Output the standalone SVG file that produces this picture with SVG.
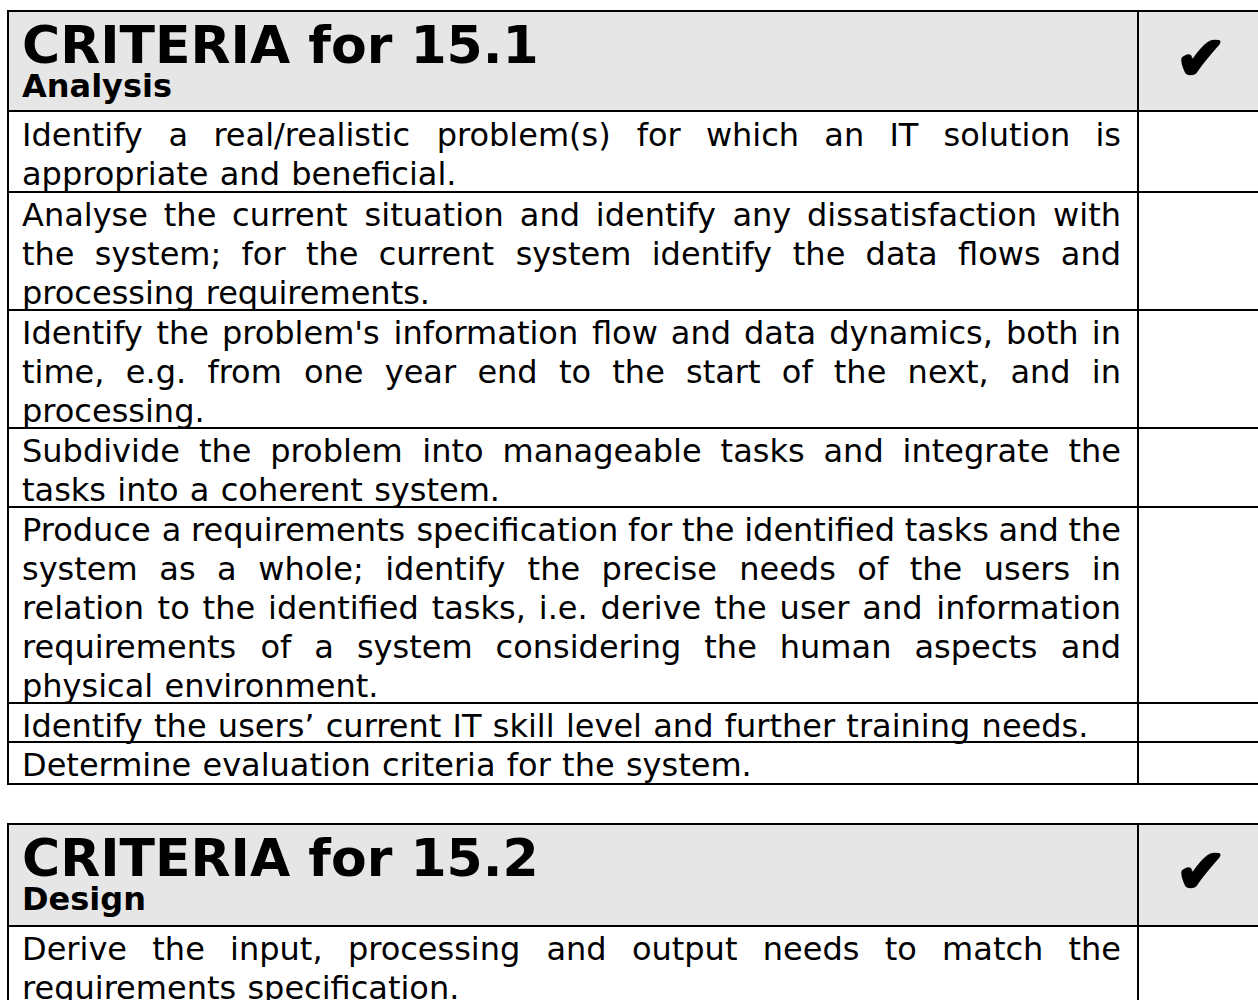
<svg xmlns="http://www.w3.org/2000/svg" width="1258" height="1000" viewBox="0 0 1258 1000">
<style>
.bg{fill:#ffffff}
.hd{fill:#e6e6e6}
.ln{stroke:#000;stroke-width:2;fill:none}
.ti{font-family:"DejaVu Sans",Verdana,sans-serif;font-weight:bold;font-size:52px;fill:#000}
.st{font-family:"DejaVu Sans",Verdana,sans-serif;font-weight:bold;font-size:32px;fill:#000}
.t{font-family:"DejaVu Sans",Verdana,sans-serif;font-size:32px;fill:#000;word-spacing:1.1px}
.ck{font-family:"DejaVu Sans",sans-serif;font-size:60px;fill:#000;stroke:#000;stroke-width:3;stroke-linejoin:round;text-anchor:middle}
</style>
<rect class="bg" x="0" y="0" width="1258" height="1000"/>
<g id="table1">
<rect class="hd" x="8" y="11" width="1252" height="100"/>
<g id="t1-header">
<text class="ti" x="22" y="63">CRITERIA for 15.1</text>
<text class="st" x="22" y="97">Analysis</text>
<text class="ck" x="1201" y="79">✔</text>
</g>
<g id="t1-row1">
<text class="t" y="146"><tspan x="22">Identify</tspan><tspan x="168.6">a</tspan><tspan x="213.4">real/realistic</tspan><tspan x="436.7">problem(s)</tspan><tspan x="636.7">for</tspan><tspan x="705.9">which</tspan><tspan x="824.3">an</tspan><tspan x="889.4">IT</tspan><tspan x="943.6">solution</tspan><tspan x="1121" text-anchor="end">is</tspan></text>
<text class="t" x="22" y="185">appropriate and beneficial.</text>
</g>
<g id="t1-row2">
<text class="t" y="226"><tspan x="22">Analyse</tspan><tspan x="163.8">the</tspan><tspan x="232.1">current</tspan><tspan x="364.6">situation</tspan><tspan x="519.8">and</tspan><tspan x="595.8">identify</tspan><tspan x="732.4">any</tspan><tspan x="807">dissatisfaction</tspan><tspan x="1121" text-anchor="end">with</tspan></text>
<text class="t" y="265"><tspan x="22">the</tspan><tspan x="94.8">system;</tspan><tspan x="241.6">for</tspan><tspan x="305.9">the</tspan><tspan x="378.7">current</tspan><tspan x="515.7">system</tspan><tspan x="651.7">identify</tspan><tspan x="792.8">the</tspan><tspan x="865.6">data</tspan><tspan x="958">flows</tspan><tspan x="1121" text-anchor="end">and</tspan></text>
<text class="t" x="22" y="304">processing requirements.</text>
</g>
<g id="t1-row3">
<text class="t" y="344"><tspan x="22">Identify</tspan><tspan x="156.4">the</tspan><tspan x="221.9">problem's</tspan><tspan x="393.5">information</tspan><tspan x="591.9">flow</tspan><tspan x="670.8">and</tspan><tspan x="744">data</tspan><tspan x="829.2">dynamics,</tspan><tspan x="1005.9">both</tspan><tspan x="1121" text-anchor="end">in</tspan></text>
<text class="t" y="383"><tspan x="22">time,</tspan><tspan x="125.8">e.g.</tspan><tspan x="207.4">from</tspan><tspan x="303.9">one</tspan><tspan x="384.7">year</tspan><tspan x="477.4">end</tspan><tspan x="558.9">to</tspan><tspan x="612.3">the</tspan><tspan x="686">start</tspan><tspan x="781.8">of</tspan><tspan x="833.8">the</tspan><tspan x="907.6">next,</tspan><tspan x="1010.4">and</tspan><tspan x="1121" text-anchor="end">in</tspan></text>
<text class="t" x="22" y="422">processing.</text>
</g>
<g id="t1-row4">
<text class="t" y="462"><tspan x="22">Subdivide</tspan><tspan x="198.9">the</tspan><tspan x="270.3">problem</tspan><tspan x="422.3">into</tspan><tspan x="502.5">manageable</tspan><tspan x="720.6">tasks</tspan><tspan x="823.5">and</tspan><tspan x="902.6">integrate</tspan><tspan x="1121" text-anchor="end">the</tspan></text>
<text class="t" x="22" y="501">tasks into a coherent system.</text>
</g>
<g id="t1-row5">
<text class="t" y="541"><tspan x="22">Produce</tspan><tspan x="161.7">a</tspan><tspan x="191.1">requirements</tspan><tspan x="416.4">specification</tspan><tspan x="628.1">for</tspan><tspan x="681.9">the</tspan><tspan x="744.2">identified</tspan><tspan x="904.8">tasks</tspan><tspan x="998.6">and</tspan><tspan x="1121" text-anchor="end">the</tspan></text>
<text class="t" y="580"><tspan x="22">system</tspan><tspan x="159.3">as</tspan><tspan x="217.1">a</tspan><tspan x="258.3">whole;</tspan><tspan x="385.2">identify</tspan><tspan x="527.6">the</tspan><tspan x="601.6">precise</tspan><tspan x="739.2">needs</tspan><tspan x="857.3">of</tspan><tspan x="909.7">the</tspan><tspan x="983.7">users</tspan><tspan x="1121" text-anchor="end">in</tspan></text>
<text class="t" y="619"><tspan x="22">relation</tspan><tspan x="157.6">to</tspan><tspan x="202.6">the</tspan><tspan x="268">identified</tspan><tspan x="431.7">tasks,</tspan><tspan x="538.8">i.e.</tspan><tspan x="600.6">derive</tspan><tspan x="714.2">the</tspan><tspan x="779.6">user</tspan><tspan x="862.3">and</tspan><tspan x="1121" text-anchor="end">information</tspan></text>
<text class="t" y="658"><tspan x="22">requirements</tspan><tspan x="260.5">of</tspan><tspan x="314.3">a</tspan><tspan x="356.9">system</tspan><tspan x="495.6">considering</tspan><tspan x="704.3">the</tspan><tspan x="779.8">human</tspan><tspan x="914.4">aspects</tspan><tspan x="1121" text-anchor="end">and</tspan></text>
<text class="t" x="22" y="697">physical environment.</text>
</g>
<g id="t1-row6">
<text class="t" x="22" y="737">Identify the users’ current IT skill level and further training needs.</text>
</g>
<g id="t1-row7">
<text class="t" x="22" y="776">Determine evaluation criteria for the system.</text>
</g>
</g>
<g id="table2">
<rect class="hd" x="8" y="824" width="1252" height="102"/>
<g id="t2-header">
<text class="ti" x="22" y="876">CRITERIA for 15.2</text>
<text class="st" x="22" y="910">Design</text>
<text class="ck" x="1201" y="892">✔</text>
</g>
<g id="t2-row1">
<text class="t" y="960"><tspan x="22">Derive</tspan><tspan x="152.3">the</tspan><tspan x="230.1">input,</tspan><tspan x="347.9">processing</tspan><tspan x="546.4">and</tspan><tspan x="631.9">output</tspan><tspan x="762.8">needs</tspan><tspan x="884.7">to</tspan><tspan x="942.1">match</tspan><tspan x="1121" text-anchor="end">the</tspan></text>
<text class="t" x="22" y="999">requirements specification.</text>
</g>
</g>
<g id="grid">
<path class="ln" d="M7 11H1260M7 111H1260M7 192H1260M7 310H1260M7 428H1260M7 507H1260M7 703H1260M7 742H1260M7 784H1260M8 10V785M1138 10V785"/>
<path class="ln" d="M7 824H1260M7 926H1260M8 823V1001M1138 823V1001"/>
</g>
</svg>
